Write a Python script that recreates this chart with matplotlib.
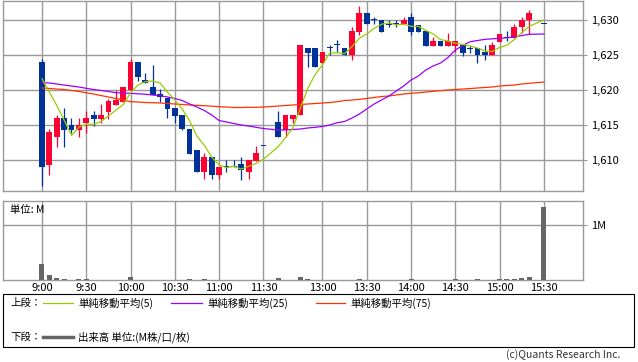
import matplotlib
matplotlib.use('Agg')
import matplotlib.pyplot as plt
import pandas as pd
from matplotlib.lines import Line2D
from matplotlib.patches import Rectangle
from matplotlib.ticker import FuncFormatter

plt.rcParams['font.family'] = ['Noto Sans CJK JP', 'DejaVu Sans']

# ── Bar times (5 min bars, lunch break removed) ─────────
am = pd.date_range('2024-01-01 09:00', '2024-01-01 11:30', freq='5min')
pm = pd.date_range('2024-01-01 12:30', '2024-01-01 15:20', freq='5min')
TIMES = [f'{t.hour}:{t.minute:02d}' for t in list(am) + list(pm)] + ['15:30']

TICK_LABELS = ['9:00', '9:30', '10:00', '10:30', '11:00', '11:30',
               '13:00', '13:30', '14:00', '14:30', '15:00', '15:30']

# ── OHLC ────────────────────────────────────────────────
OPENS = [
    1624.0, 1609.3, 1613.3, 1616.0, 1615.0, 1614.3, 1615.3, 1616.4, 1615.9, 1616.9,
    1617.9, 1618.3, 1620.0, 1624.0, 1621.4, 1620.4, 1619.4, 1618.9, 1617.4, 1616.4,
    1614.4, 1611.4, 1608.3, 1610.4, 1607.9, 1609.0, 1609.0, 1609.4, 1608.3, 1609.9,
    1612.0,
    1615.4, 1614.3, 1615.9, 1616.4, 1626.0, 1626.0, 1623.9, 1626.0, 1626.4, 1626.0,
    1625.0, 1628.3, 1631.0, 1630.0, 1630.0, 1629.3, 1629.4, 1629.4, 1630.4, 1629.3,
    1628.4, 1626.3, 1627.0, 1626.3, 1626.3, 1626.4, 1625.9, 1626.0, 1625.4, 1625.0,
    1626.9, 1627.4, 1627.4, 1629.0, 1630.0,
    1629.4,
]
HIGHS = [
    1624.4, 1614.4, 1616.4, 1617.4, 1616.0, 1616.0, 1617.0, 1617.0, 1618.0, 1618.7,
    1620.0, 1620.4, 1624.4, 1624.0, 1622.4, 1623.6, 1620.1, 1618.9, 1617.4, 1616.4,
    1614.4, 1611.4, 1611.0, 1610.4, 1609.0, 1610.0, 1610.0, 1610.4, 1610.0, 1612.0,
    1612.0,
    1617.0, 1616.4, 1616.4, 1626.4, 1626.0, 1626.0, 1625.4, 1626.4, 1627.1, 1626.0,
    1629.0, 1632.0, 1631.0, 1630.4, 1630.0, 1630.0, 1630.0, 1630.4, 1631.0, 1629.3,
    1628.4, 1627.6, 1627.0, 1628.1, 1627.0, 1626.4, 1626.3, 1626.0, 1626.4, 1626.9,
    1628.0, 1628.4, 1629.4, 1630.4, 1631.4,
    1629.4,
]
LOWS = [
    1606.3, 1607.9, 1611.9, 1611.9, 1613.9, 1613.3, 1613.9, 1614.9, 1615.3, 1615.9,
    1617.9, 1618.3, 1620.0, 1621.3, 1621.0, 1619.3, 1618.3, 1616.0, 1615.3, 1614.3,
    1610.9, 1608.3, 1607.3, 1607.3, 1607.3, 1608.3, 1609.0, 1607.1, 1607.3, 1609.9,
    1612.0,
    1613.3, 1613.3, 1615.3, 1616.4, 1623.3, 1623.3, 1623.9, 1625.0, 1625.4, 1625.0,
    1624.3, 1627.9, 1629.4, 1629.4, 1628.3, 1629.0, 1629.0, 1629.4, 1627.9, 1628.3,
    1626.3, 1626.3, 1626.3, 1626.3, 1625.4, 1624.9, 1625.3, 1623.9, 1624.3, 1625.0,
    1626.9, 1627.0, 1627.4, 1628.1, 1628.0,
    1629.4,
]
CLOSES = [
    1609.0, 1614.0, 1616.0, 1614.3, 1614.3, 1615.0, 1616.0, 1615.9, 1616.4, 1618.4,
    1618.6, 1620.4, 1624.0, 1621.9, 1621.0, 1619.3, 1619.0, 1617.3, 1616.3, 1614.4,
    1610.9, 1608.3, 1610.4, 1607.9, 1609.0, 1609.0, 1609.0, 1608.6, 1610.0, 1611.0,
    1612.0,
    1613.3, 1616.4, 1616.4, 1626.4, 1625.3, 1623.3, 1625.4, 1626.0, 1626.4, 1625.0,
    1628.4, 1631.0, 1629.4, 1630.0, 1628.3, 1629.3, 1629.4, 1630.0, 1628.3, 1628.3,
    1626.3, 1627.0, 1626.3, 1627.0, 1627.0, 1625.3, 1625.9, 1625.0, 1625.0, 1626.4,
    1628.0, 1627.4, 1629.0, 1630.0, 1631.0,
    1629.4,
]

# ── Volume (M) ──────────────────────────────────────────
VOLUMES = [
    0.29, 0.09, 0.04, 0.025, 0.005, 0.025, 0.025, 0.005, 0.005, 0.005,
    0.005, 0.005, 0.06, 0.005, 0.005, 0.005, 0.005, 0.005, 0.005, 0.005,
    0.025, 0.005, 0.025, 0.005, 0.005, 0.005, 0.005, 0.005, 0.005, 0.005,
    0.005,
    0.04, 0.005, 0.005, 0.06, 0.025, 0.005, 0.005, 0.005, 0.005, 0.005,
    0.005, 0.025, 0.005, 0.005, 0.005, 0.005, 0.005, 0.005, 0.025, 0.005,
    0.005, 0.005, 0.005, 0.005, 0.025, 0.005, 0.005, 0.025, 0.005, 0.005,
    0.025, 0.025, 0.025, 0.04, 0.055,
    1.32,
]

# ── Moving averages ─────────────────────────────────────
MA5 = [
    1621.6, 1619.7, 1617.8, 1615.7, 1613.5, 1614.7, 1615.1, 1615.1, 1615.5, 1616.3,
    1617.1, 1617.9, 1619.6, 1620.7, 1621.2, 1621.3, 1621.0, 1619.7, 1618.6, 1617.3,
    1615.6, 1613.4, 1612.1, 1610.4, 1609.3, 1608.9, 1609.1, 1608.7, 1609.1, 1609.5,
    1610.1,
    1611.9, 1613.2, 1614.6, 1617.4, 1620.2, 1622.2, 1623.6, 1625.3, 1625.3, 1625.2,
    1626.2, 1627.4, 1628.0, 1628.8, 1629.4, 1629.6, 1629.3, 1629.4, 1629.1, 1629.1,
    1628.5, 1628.0, 1627.2, 1627.0, 1626.7, 1626.5, 1626.3, 1626.0, 1625.6, 1625.5,
    1626.1, 1626.4, 1627.2, 1628.2, 1629.1,
    1630.0,
]
MA25 = [
    1621.07, 1621.0, 1620.86, 1620.71, 1620.57, 1620.43, 1620.24, 1620.07, 1619.93, 1619.79,
    1619.61, 1619.57, 1619.53, 1619.46, 1619.39, 1619.29, 1619.19, 1619.0, 1618.79, 1618.5,
    1618.0, 1617.57, 1617.07, 1616.43, 1615.64, 1615.43, 1615.21, 1615.0, 1614.86, 1614.67,
    1614.5,
    1614.29, 1614.29, 1614.36, 1614.43, 1614.57, 1614.67, 1614.79, 1615.0, 1615.33, 1615.5,
    1616.0, 1616.57, 1617.29, 1618.0, 1618.57, 1619.14, 1619.86, 1620.57, 1621.43, 1622.0,
    1622.86, 1623.43, 1623.86, 1624.64, 1625.71, 1626.36, 1626.9, 1627.07, 1627.24, 1627.31,
    1627.39, 1627.47, 1627.57, 1627.79, 1627.96,
    1628.0,
]
MA75 = [
    1620.29, 1620.21, 1620.14, 1620.07, 1619.93, 1619.79, 1619.61, 1619.43, 1619.21, 1619.0,
    1618.79, 1618.57, 1618.33, 1618.29, 1618.21, 1618.19, 1618.14, 1618.07, 1618.0, 1617.93,
    1617.86, 1617.81, 1617.76, 1617.69, 1617.61, 1617.57, 1617.5, 1617.5, 1617.53, 1617.53,
    1617.57,
    1617.71, 1617.79, 1617.86, 1617.93, 1618.0, 1618.07, 1618.14, 1618.21, 1618.33, 1618.5,
    1618.57, 1618.67, 1618.79, 1618.93, 1619.07, 1619.14, 1619.29, 1619.43, 1619.53, 1619.61,
    1619.71, 1619.81, 1619.9, 1620.0, 1620.07, 1620.14, 1620.21, 1620.29, 1620.36, 1620.43,
    1620.57, 1620.64, 1620.71, 1620.86, 1620.96,
    1621.14,
]

UP_COLOR = '#ff0033'
DOWN_COLOR = '#003399'
GRID = '#999999'
W, H = 638, 362


def slot(t):
    h, m = map(int, t.split(':'))
    mins = h * 60 + m
    s = (mins - 540) / 5
    return s - 10 if mins >= 750 else s


def box(l, t, r, b):
    return [l / W, 1 - b / H, (r - l) / W, (b - t) / H]


xs = [slot(t) for t in TIMES]
ticks = [slot(t) for t in TICK_LABELS]

fig = plt.figure(figsize=(W / 100, H / 100), dpi=100)
ax = fig.add_axes(box(3, 0.5, 583, 191))
axv = fig.add_axes(box(3, 201, 583, 280))

# ── Price panel ─────────────────────────────────────────
colors = [UP_COLOR if c > o else DOWN_COLOR for o, c in zip(OPENS, CLOSES)]
ax.vlines(xs, LOWS, HIGHS, colors=colors, lw=0.9, zorder=2)
bottoms = [min(o, c) for o, c in zip(OPENS, CLOSES)]
heights = [max(abs(c - o), 0.16) for o, c in zip(OPENS, CLOSES)]
ax.bar(xs, heights, bottom=bottoms, width=0.78, color=colors, lw=0, zorder=3)

ax.plot(xs, MA75, color='#ff3300', lw=0.9, zorder=4)
ax.plot(xs, MA25, color='#9900ff', lw=0.9, zorder=4)
ax.plot(xs, MA5, color='#99cc00', lw=0.9, zorder=5)

ax.set_xlim(-5.28, 73.3)
ax.set_ylim(1605.57, 1632.79)
ax.set_xticks(ticks)
ax.set_xticklabels([])
ax.set_yticks([1610, 1615, 1620, 1625, 1630])
ax.yaxis.set_major_formatter(FuncFormatter(lambda v, p: f'{int(v):,}'))
ax.yaxis.tick_right()
ax.tick_params(axis='x', length=0)
ax.tick_params(axis='y', length=3, color=GRID, labelsize=8, pad=3)
ax.grid(True, color=GRID, lw=1.0)
ax.set_axisbelow(True)
for s in ax.spines.values():
    s.set_color(GRID)
    s.set_linewidth(1.0)

# ── Volume panel ────────────────────────────────────────
axv.bar(xs, VOLUMES, width=0.68, color='#666666', lw=0, zorder=3)
axv.set_xlim(-5.28, 73.3)
axv.set_ylim(0, 1.436)
axv.set_xticks(ticks)
axv.set_xticklabels(TICK_LABELS)
axv.set_yticks([1.0])
axv.set_yticklabels(['1M'])
axv.yaxis.tick_right()
axv.tick_params(axis='x', length=0, labelsize=8, pad=2)
axv.tick_params(axis='y', length=3, color=GRID, labelsize=8, pad=3)
axv.grid(True, color=GRID, lw=1.0)
axv.set_axisbelow(True)
for s in axv.spines.values():
    s.set_color(GRID)
    s.set_linewidth(1.0)
axv.text(7 / 580, 0.89, '単位: M', transform=axv.transAxes,
         fontsize=7.5, va='center', ha='left')

# ── Legend box ──────────────────────────────────────────
fig.add_artist(Rectangle((3 / W, 1 - 347 / H), 631 / W, 53 / H,
                         transform=fig.transFigure, fill=False,
                         ec='black', lw=0.8))


def fig_text(x, y, s, **kw):
    fig.text(x / W, 1 - y / H, s, va='center', fontsize=7.5, **kw)


def fig_line(x0, x1, y, color, lw):
    fig.add_artist(Line2D([x0 / W, x1 / W], [1 - y / H, 1 - y / H],
                          transform=fig.transFigure, color=color, lw=lw))


fig_text(10, 303, '上段：')
fig_line(43, 73, 303, '#99cc00', 0.9)
fig_text(78, 303, '単純移動平均(5)')
fig_line(171, 202, 303, '#9900ff', 0.9)
fig_text(207, 303, '単純移動平均(25)')
fig_line(316, 345, 303, '#ff3300', 0.9)
fig_text(350, 303, '単純移動平均(75)')

fig_text(10, 337, '下段：')
fig_line(43, 73, 337, '#666666', 2.5)
fig_text(78, 337, '出来高 単位:(M株/口/枚)')

fig_text(620, 355, '(c)Quants Research Inc.', ha='right', color='#333333')

fig.savefig('out.png', dpi=100)
